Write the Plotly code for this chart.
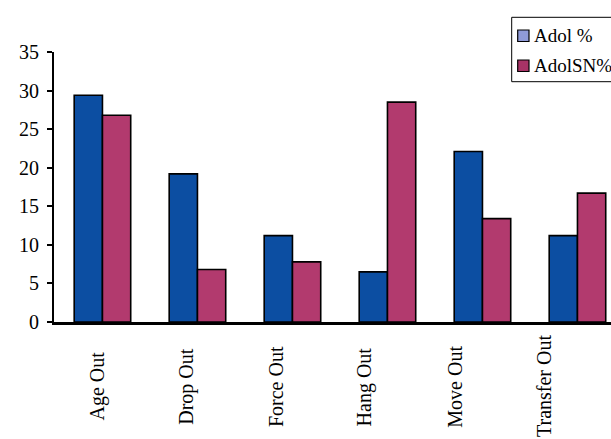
import plotly.graph_objects as go

categories = ["Age Out", "Drop Out", "Force Out", "Hang Out", "Move Out", "Transfer Out"]
series_names = ["Adol %", "AdolSN%"]
adol = [29.4, 19.2, 11.2, 6.5, 22.1, 11.2]
adol_sn = [26.8, 6.8, 7.8, 28.5, 13.4, 16.7]
y_ticks = [0, 5, 10, 15, 20, 25, 30, 35]

W, H = 611, 439
L, R, T, B = 54, 0, 52, 117
PW, PH = W - L - R, H - T - B

def px_x(p):
    return (p - L) / PW

def px_y(p):
    return (H - B - p) / PH

bar_colors = ["#0c4ea2", "#b23a6e"]
legend_colors = ["#8f9ad8", "#a83366"]
font_family = "Liberation Serif, Times New Roman, serif"

fig = go.Figure()
for name, vals, col in zip(series_names, [adol, adol_sn], bar_colors):
    fig.add_trace(go.Bar(
        x=categories, y=vals, name=name, showlegend=False,
        marker=dict(color=col, line=dict(color="black", width=1.6)),
    ))

shapes = []
annotations = []
# legend box
shapes.append(dict(type="rect", xref="paper", yref="paper",
                   x0=px_x(511.7), x1=1.1, y0=px_y(81.7), y1=px_y(17.3),
                   line=dict(color="black", width=1), fillcolor="white", layer="above"))
sw_tops = [30, 60]
for name, col, top in zip(series_names, legend_colors, sw_tops):
    shapes.append(dict(type="rect", xref="paper", yref="paper",
                       x0=px_x(517.7), x1=px_x(529), y0=px_y(top + 11.5), y1=px_y(top),
                       line=dict(color="black", width=1.2), fillcolor=col, layer="above"))
    annotations.append(dict(xref="paper", yref="paper", x=px_x(532), y=px_y(top + 5.5),
                            xanchor="left", yanchor="middle", text=name, showarrow=False,
                            font=dict(family=font_family, size=19, color="black")))

# category labels, rotated and centred below axis
for i, c in enumerate(categories):
    annotations.append(dict(xref="x2", yref="paper", x=i, y=px_y(386.5),
                            xanchor="center", yanchor="middle", text=c, textangle=-90,
                            showarrow=False,
                            font=dict(family=font_family, size=20, color="black")))

fig.update_layout(
    width=W, height=H,
    margin=dict(l=L, r=R, t=T, b=B),
    paper_bgcolor="white", plot_bgcolor="white",
    barmode="group", bargap=0.405, bargroupgap=0,
    font=dict(family=font_family, size=20, color="black"),
    xaxis=dict(type="category", range=[-0.51, 5.353], showticklabels=False,
               showline=True, linecolor="black", linewidth=2.5, ticks="",
               showgrid=False, zeroline=False, fixedrange=True),
    xaxis2=dict(overlaying="x", anchor="y", range=[(L - 97) / 89.3, (W - 97) / 89.3],
                visible=False, showgrid=False, zeroline=False),
    yaxis=dict(range=[0, 35], tickvals=y_ticks, ticks="outside", ticklen=5,
               tickwidth=1.5, tickcolor="black", showline=True, linecolor="black",
               linewidth=2, showgrid=False, zeroline=False, ticklabelstandoff=4,
               tickfont=dict(family=font_family, size=20, color="black")),
    shapes=shapes, annotations=annotations,
    showlegend=False,
)

fig.write_html("out.html")
